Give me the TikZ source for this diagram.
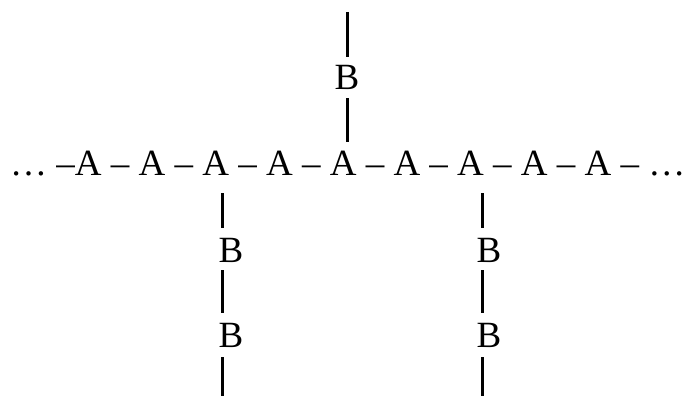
\documentclass[tikz,border=0pt]{standalone}
\usepackage{fontspec}
\setmainfont{Liberation Serif}
\begin{document}
\begin{tikzpicture}[x=1pt,y=-1pt,
  lbl/.style={inner sep=0pt, font=\fontsize{37}{44}\selectfont},
  bond/.style={line width=3pt}]
\useasboundingbox (0,0) rectangle (687,396);
% main chain
\node[lbl, anchor=base west] (chain) at (10,175) {… –A – A – A – A – A – A – A – A – A – …};
% top branch
\node[lbl, anchor=base] (bt) at (347,89) {B};
\coordinate (t0) at (347,12);
\coordinate (t1) at (347,57);
\coordinate (t2) at (347,98);
\coordinate (t3) at (347,142);
\draw[bond] (t0) -- (t1);
\draw[bond] (t2) -- (t3);
% bottom left branch
\node[lbl, anchor=base] (bl1) at (231,262) {B};
\node[lbl, anchor=base] (bl2) at (231,347) {B};
\coordinate (l0) at (222,193);
\coordinate (l1) at (222,228);
\coordinate (l2) at (222,270);
\coordinate (l3) at (222,313);
\coordinate (l4) at (222,357);
\coordinate (l5) at (222,396);
\draw[bond] (l0) -- (l1);
\draw[bond] (l2) -- (l3);
\draw[bond] (l4) -- (l5);
% bottom right branch
\node[lbl, anchor=base] (br1) at (489,262) {B};
\node[lbl, anchor=base] (br2) at (489,347) {B};
\coordinate (r0) at (482,193);
\coordinate (r1) at (482,228);
\coordinate (r2) at (482,270);
\coordinate (r3) at (482,313);
\coordinate (r4) at (482,357);
\coordinate (r5) at (482,396);
\draw[bond] (r0) -- (r1);
\draw[bond] (r2) -- (r3);
\draw[bond] (r4) -- (r5);
\end{tikzpicture}
\end{document}
